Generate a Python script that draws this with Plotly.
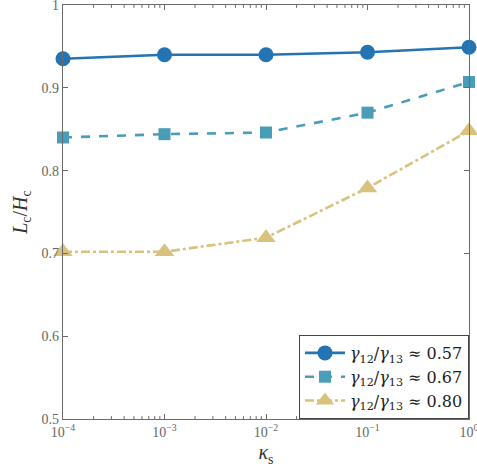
import plotly.graph_objects as go

kappa = [1e-4, 1e-3, 1e-2, 1e-1, 1e0]
ratio_057 = [0.935, 0.940, 0.940, 0.943, 0.949]
ratio_067 = [0.840, 0.844, 0.846, 0.870, 0.907]
ratio_080 = [0.702, 0.702, 0.719, 0.779, 0.848]
labels = ["<i>γ</i><sub>12</sub>/<i>γ</i><sub>13</sub> ≈ 0.57",
          "<i>γ</i><sub>12</sub>/<i>γ</i><sub>13</sub> ≈ 0.67",
          "<i>γ</i><sub>12</sub>/<i>γ</i><sub>13</sub> ≈ 0.80"]
xtick_vals = [1e-4, 1e-3, 1e-2, 1e-1, 1e0]
xtick_text = ["10<sup>−4</sup>", "10<sup>−3</sup>", "10<sup>−2</sup>", "10<sup>−1</sup>", "10<sup>0</sup>"]
ytick_vals = [0.5, 0.6, 0.7, 0.8, 0.9, 1.0]
ytick_text = ["0.5", "0.6", "0.7", "0.8", "0.9", "1"]

# minor log ticks (2..9 within each decade)
minor_vals = [m * d for d in xtick_vals[:-1] for m in range(2, 10)]

colors = ["#2474b4", "#4a9db6", "#d9c27e"]
symbols = ["circle", "square", "triangle-up"]
sizes = [15, 12, 17]
dashes = ["solid", "dash", "dashdot"]
series = [ratio_057, ratio_067, ratio_080]

fig = go.Figure()
for ys, lab, c, s, sz, d in zip(series, labels, colors, symbols, sizes, dashes):
    fig.add_trace(go.Scatter(x=kappa, y=ys, name=lab, mode="lines+markers",
                             line=dict(color=c, width=2.6, dash=d),
                             marker=dict(symbol=s, size=sz, color=c),
                             cliponaxis=False))

font_family = "Liberation Serif"
axis_color = "#6a6a6a"
tick_frac = 0.007
for v in minor_vals:
    for y0, y1 in [(0, tick_frac), (1, 1 - tick_frac)]:
        fig.add_shape(type="line", xref="x", yref="paper", x0=v, x1=v, y0=y0, y1=y1,
                      line=dict(color=axis_color, width=1), layer="below")

fig.update_layout(
    width=477, height=470,
    margin=dict(l=63, r=8, t=5, b=51, autoexpand=False),
    plot_bgcolor="white", paper_bgcolor="white",
    font=dict(family=font_family, color="#555555", size=14),
    showlegend=True,
    legend=dict(x=1, y=0, xanchor="right", yanchor="bottom",
                bgcolor="white", bordercolor="#444444", borderwidth=1,
                font=dict(size=16, color="#222222", family="DejaVu Serif"),
                tracegroupgap=0, itemwidth=40),
)
fig.update_xaxes(type="log", range=[-4, 0], tickmode="array", tickvals=xtick_vals, ticktext=xtick_text,
                 ticklabeloverflow="allow",
                 showline=True, linecolor=axis_color, linewidth=1.3, mirror="allticks",
                 ticks="inside", ticklen=5, tickcolor=axis_color,
                 showgrid=False, zeroline=False,
                 tickfont=dict(size=14, color="#666666"),
                 title=dict(text="<i>κ</i><sub>s</sub>", font=dict(size=20, color="#333333"), standoff=6))
fig.update_yaxes(range=[0.5, 1.0], tickvals=ytick_vals, ticktext=ytick_text,
                 ticklabeloverflow="allow",
                 showline=True, linecolor=axis_color, linewidth=1.3, mirror="allticks",
                 ticks="inside", ticklen=5, tickcolor=axis_color,
                 showgrid=False, zeroline=False,
                 tickfont=dict(size=14, color="#666666"),
                 title=dict(text="<i>L</i><sub>c</sub>/<i>H</i><sub>c</sub>", font=dict(size=20, color="#333333"), standoff=8))

fig.write_html("out.html", config={"displayModeBar": False},
               post_script="document.body.style.margin='0';document.body.style.overflow='hidden';")
